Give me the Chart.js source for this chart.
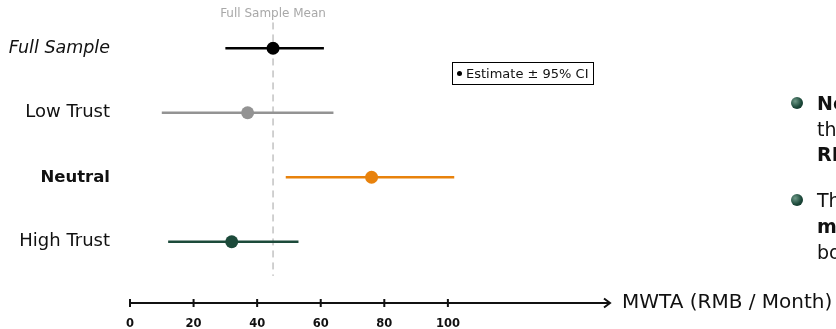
<!DOCTYPE html>
<html lang="en">
<head>
<meta charset="UTF-8">
<title>MWTA by Trust Group</title>
<script src="https://cdn.jsdelivr.net/npm/chart.js@4"></script>
<style>
  body { margin:0; width:836px; height:329px; overflow:hidden; background:#fff; position:relative;
         font-family:"DejaVu Sans", sans-serif; color:#111; }
  #chart { position:absolute; left:0; top:0; }
  .legend { position:absolute; left:452px; top:62px; width:140px; height:21px; border:1px solid #000;
            font-size:13px; line-height:21px; white-space:nowrap; box-sizing:content-box; }
  .legend .dot { display:inline-block; width:5px; height:5px; border-radius:50%; background:#000;
                 margin:0 4px 2px 4px; vertical-align:middle; }
  .notes { position:absolute; left:790px; top:0; width:400px; font-size:19px; }
  .notes .ball { position:absolute; left:1px; width:12px; height:12px; border-radius:50%;
                 background:radial-gradient(circle at 35% 35%, #6f9a88, #1d4a3b 55%, #0c2a20); }
  .notes .ln { position:absolute; left:27px; white-space:nowrap; line-height:20px; }
  .notes b { font-weight:bold; }
</style>
</head>
<body>
<canvas id="chart" width="836" height="329"></canvas>
<div class="legend"><span class="dot"></span>Estimate ± 95% CI</div>
<div class="notes">
  <div class="ball" style="top:97px"></div>
  <div class="ln" style="top:93px"><b>Neutral respondents report</b></div>
  <div class="ln" style="top:119px">the highest MWTA, about 76</div>
  <div class="ln" style="top:144px"><b>RMB per month</b></div>
  <div class="ball" style="top:194px"></div>
  <div class="ln" style="top:190px">The trust groups differ</div>
  <div class="ln" style="top:216px"><b>markedly</b>, with wide intervals</div>
  <div class="ln" style="top:242px">both above and below the mean</div>
</div>
<script>
  const groups = ['Full Sample', 'Low Trust', 'Neutral', 'High Trust'];
  const estimates = [45, 37, 76, 32];
  const ciLow = [30, 10, 49, 12];
  const ciHigh = [61, 64, 102, 53];
  const xTicks = [0, 20, 40, 60, 80, 100];
  const fullSampleMean = 45;

  const colors = ['#000000', '#939393', '#e8820c', '#1c4a3a'];
  const labelFonts = [
    { family: 'DejaVu Sans', size: 17.5, style: 'italic' },
    { family: 'DejaVu Sans', size: 18 },
    { family: 'DejaVu Sans', size: 16.5, weight: 'bold' },
    { family: 'DejaVu Sans', size: 18 }
  ];

  const datasets = [];
  // dashed reference line for the full sample mean (drawn underneath)
  datasets.push({
    type: 'line', order: 3,
    data: [{ x: fullSampleMean, y: -0.4 }, { x: fullSampleMean, y: 3.53 }],
    borderColor: '#a4a4a4', borderWidth: 1, borderDash: [7, 5], pointRadius: 0
  });
  // CI whiskers
  groups.forEach((g, i) => {
    datasets.push({
      type: 'line', order: 2,
      data: [{ x: ciLow[i], y: i }, { x: ciHigh[i], y: i }],
      borderColor: colors[i], borderWidth: 2.5, pointRadius: 0
    });
  });
  // point estimates on top
  datasets.push({
    type: 'scatter', order: 1,
    data: estimates.map((v, i) => ({ x: v, y: i })),
    pointBackgroundColor: colors, pointBorderWidth: 0, pointRadius: 6.5
  });

  const axisExtras = {
    id: 'axisExtras',
    afterDraw(chart) {
      const { ctx, chartArea, scales: { x } } = chart;
      const y0 = chartArea.bottom;
      ctx.save();
      ctx.strokeStyle = '#111';
      ctx.lineWidth = 2;
      ctx.beginPath();
      ctx.moveTo(chartArea.left, y0);
      ctx.lineTo(chartArea.right, y0);
      xTicks.forEach(v => {
        const px = x.getPixelForValue(v);
        ctx.moveTo(px, y0 - 4);
        ctx.lineTo(px, y0 + 4);
      });
      ctx.moveTo(chartArea.right - 6, y0 - 4.5);
      ctx.lineTo(chartArea.right, y0);
      ctx.lineTo(chartArea.right - 6, y0 + 4.5);
      ctx.stroke();

      ctx.fillStyle = '#111';
      ctx.font = '20px "DejaVu Sans"';
      ctx.textBaseline = 'middle';
      ctx.fillText('MWTA (RMB / Month)', chartArea.right + 12, y0);

      ctx.fillStyle = '#a8a8a8';
      ctx.font = '12px "DejaVu Sans"';
      ctx.textAlign = 'center';
      ctx.fillText('Full Sample Mean', x.getPixelForValue(fullSampleMean), 14);
      ctx.restore();
    }
  };

  new Chart(document.getElementById('chart'), {
    type: 'scatter',
    data: { datasets },
    options: {
      responsive: false,
      animation: false,
      layout: { padding: { top: 16, right: 226, left: 0, bottom: 0 } },
      plugins: { legend: { display: false }, tooltip: { enabled: false } },
      scales: {
        x: {
          type: 'linear', min: 0, max: 151,
          afterBuildTicks: s => { s.ticks = xTicks.map(v => ({ value: v })); },
          afterFit: s => { s.height = 26; s.paddingLeft = 0; s.paddingRight = 0; },
          grid: { display: false, drawTicks: false },
          border: { display: false },
          ticks: { color: '#111', padding: 14, font: { family: 'DejaVu Sans', size: 11.5, weight: 'bold' } }
        },
        y: {
          type: 'linear', min: -0.5, max: 3.95, reverse: true,
          afterBuildTicks: s => { s.ticks = groups.map((g, i) => ({ value: i })); },
          afterFit: s => { s.width = 130; s.paddingTop = 0; s.paddingBottom = 0; },
          grid: { display: false, drawTicks: false },
          border: { display: false },
          ticks: {
            color: '#111', padding: 20,
            callback: v => groups[v],
            font: c => labelFonts[c.index] || labelFonts[1]
          }
        }
      }
    },
    plugins: [axisExtras]
  });
</script>
</body>
</html>
